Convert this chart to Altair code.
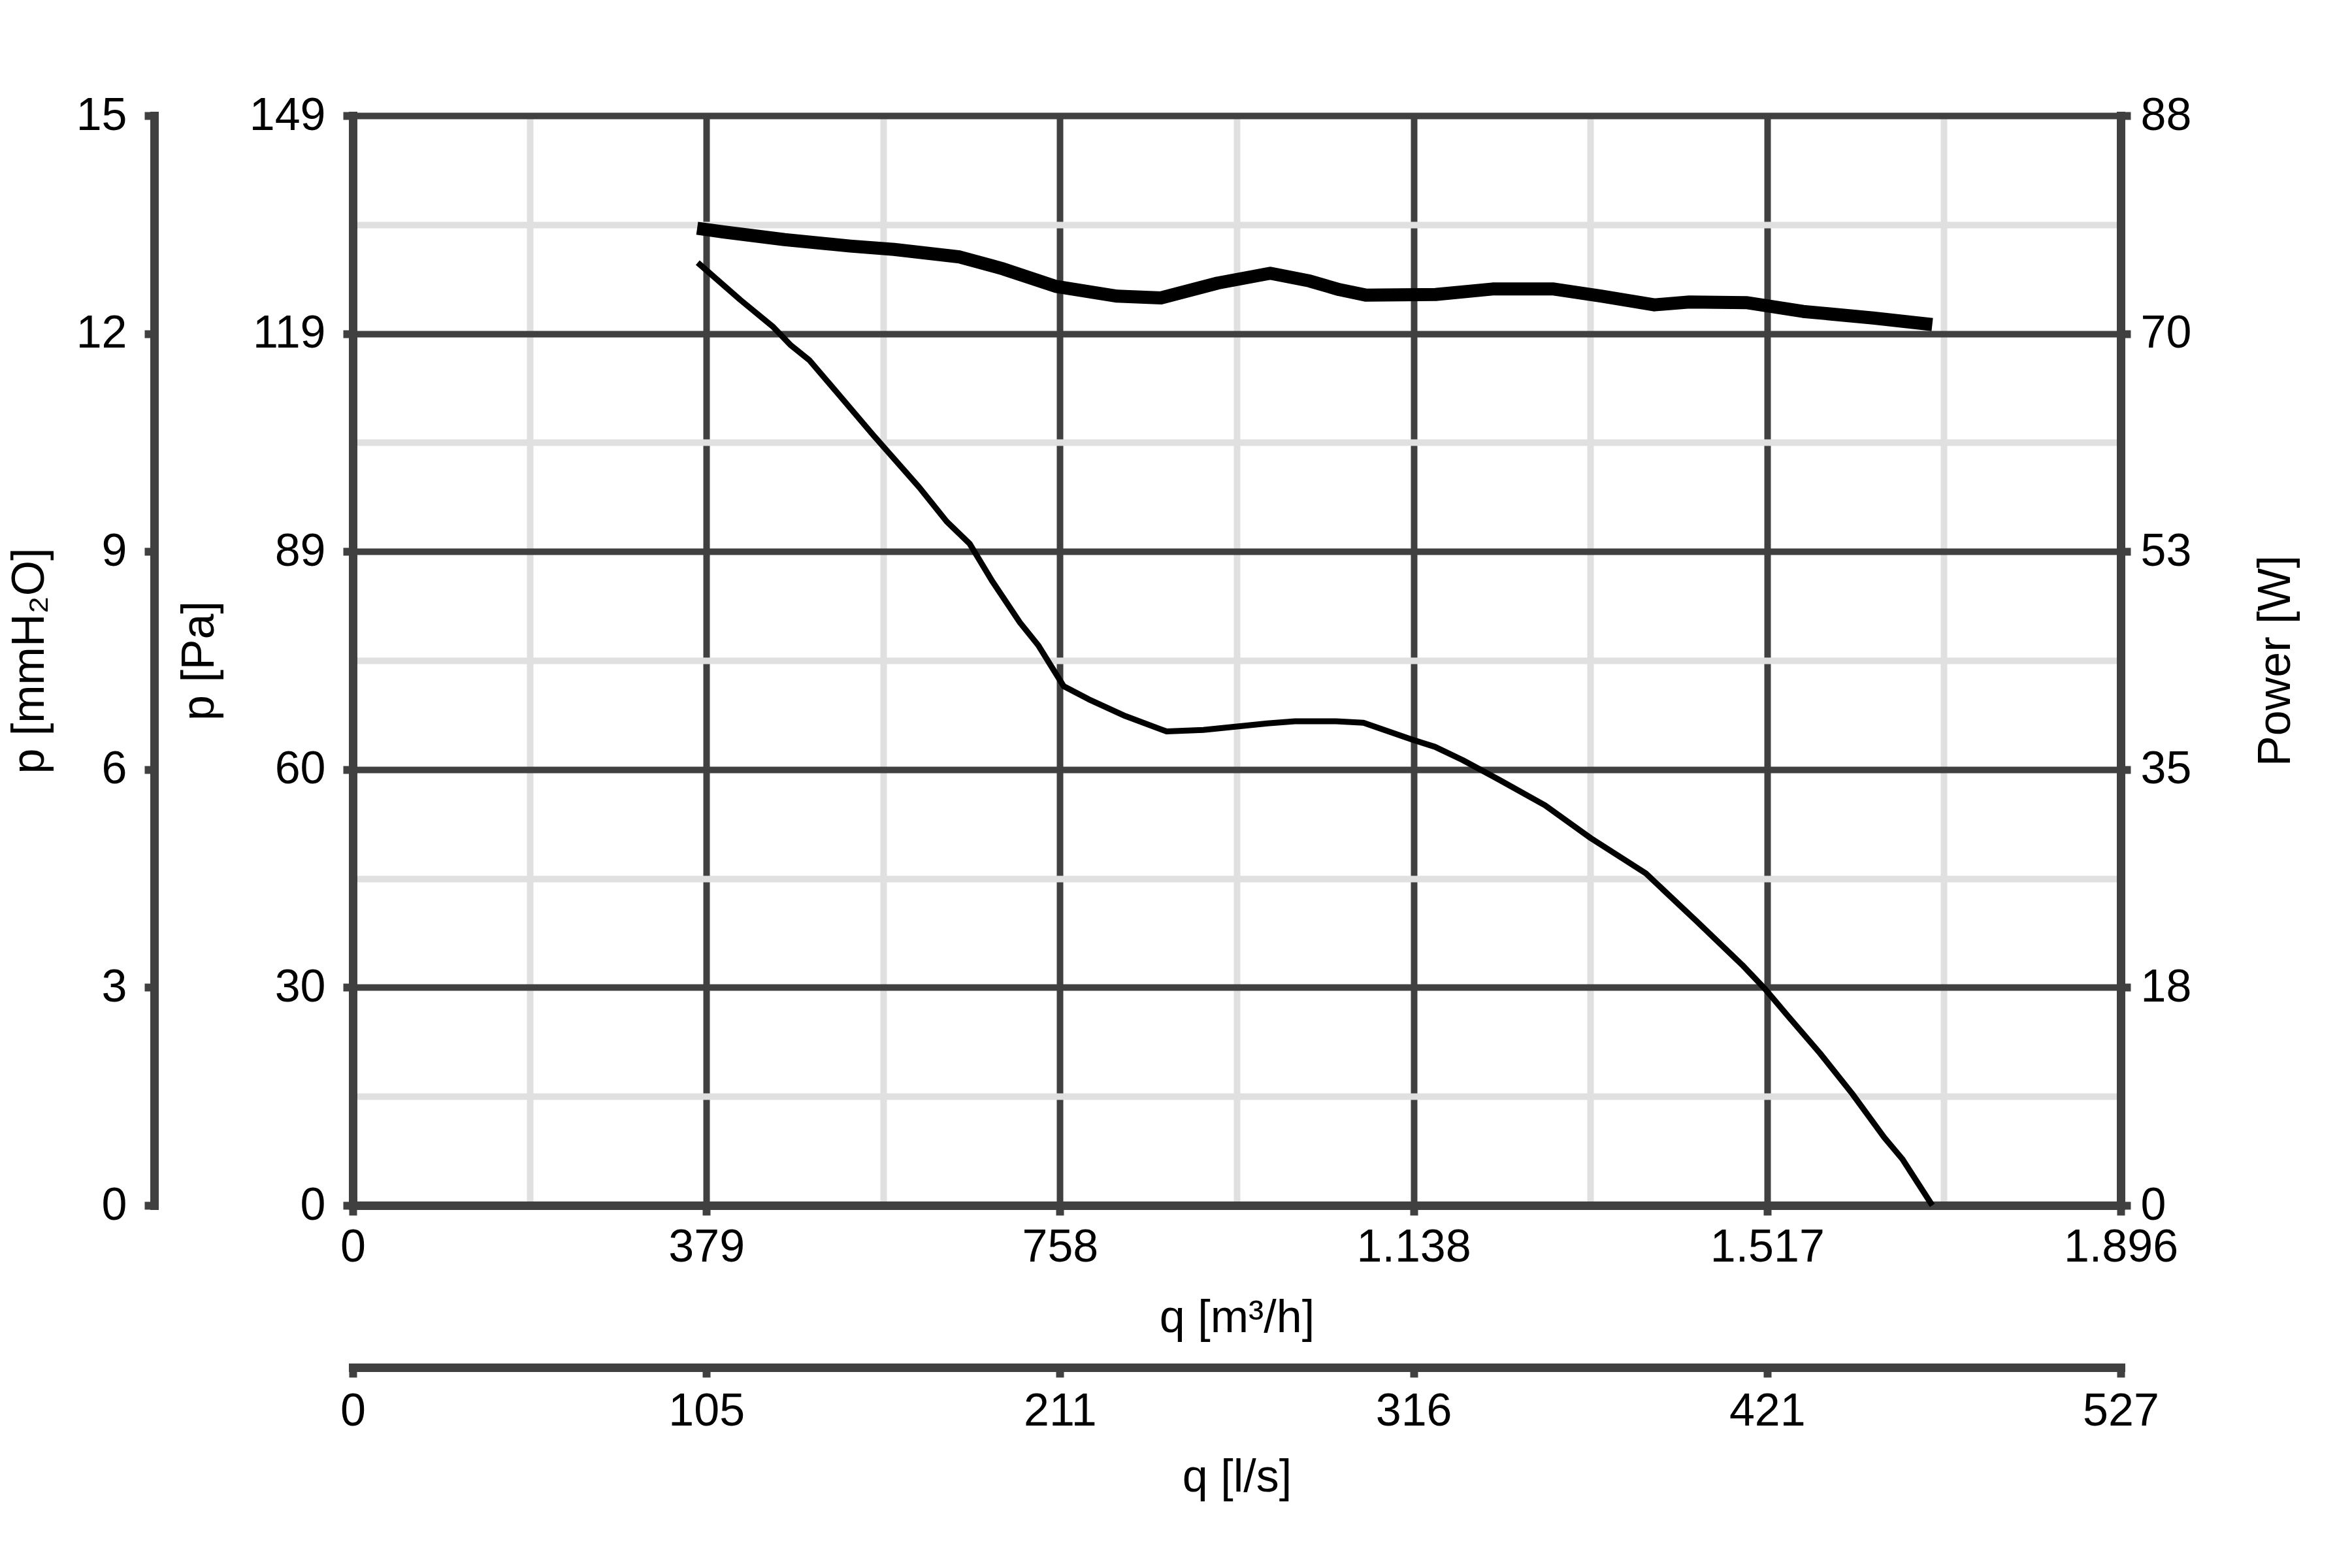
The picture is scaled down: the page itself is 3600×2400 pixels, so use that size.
import json
import altair as alt
import pandas as pd

# ---- data ----
# Pressure curve: q [m³/h] vs p [Pa]
Q_P = [369.9, 415.7, 450.1, 469.8, 489.4, 518.9, 558.2, 607.4, 636.9, 661.4, 686.0,
       715.4, 735.0, 762.3, 789.2, 828.6, 872.8, 912.1, 980.9, 1010.4, 1054.5, 1083.9,
       1101.6, 1136.0, 1160.6, 1190.1, 1229.4, 1278.6, 1327.8, 1386.7, 1440.8, 1489.9,
       1514.5, 1539.1, 1573.5, 1607.9, 1642.3, 1662.0, 1693.9]
P_PA = [128.9, 123.8, 120.2, 117.6, 115.6, 111.2, 105.3, 98.2, 93.5, 90.5, 85.3,
        79.7, 76.6, 71.0, 69.2, 66.9, 64.8, 65.0, 65.9, 66.2, 66.2, 66.0,
        65.2, 63.7, 62.7, 60.9, 58.2, 54.7, 50.2, 45.4, 38.9, 32.9,
        29.6, 25.9, 20.8, 15.3, 9.3, 6.3, 0.0]
# Power curve: q [m³/h] vs Power [W]
Q_W = [369.3, 397.4, 463.1, 533.4, 580.4, 650.8, 697.7, 754.0, 819.7, 866.6, 927.6,
       983.9, 1026.1, 1058.0, 1086.2, 1161.2, 1222.3, 1287.9, 1339.6, 1395.9, 1433.4,
       1494.4, 1555.4, 1630.5, 1693.9]
POWER_W = [78.91, 78.61, 77.99, 77.47, 77.20, 76.59, 75.62, 74.21, 73.42, 73.28, 74.48,
           75.27, 74.65, 73.95, 73.51, 73.56, 74.00, 74.00, 73.42, 72.72, 72.95,
           72.90, 72.19, 71.66, 71.13]

# axis ranges and tick labels
X_MAX = 1896.0            # m³/h
LS_MAX = 1896.0 / 3.6     # l/s
PA_MAX = 149.0            # Pa
MM_MAX = 149.0 / 9.80665  # mmH2O
W_MAX = 88.0              # W
X_LABELS = ["0", "379", "758", "1.138", "1.517", "1.896"]
LS_LABELS = ["0", "105", "211", "316", "421", "527"]
PA_LABELS = ["0", "30", "60", "89", "119", "149"]
MM_LABELS = ["0", "3", "6", "9", "12", "15"]
W_LABELS = ["0", "18", "35", "53", "70", "88"]

FONT = "Liberation Sans"
DARK = "#404040"
LIGHT = "#e0e0e0"

pressure = pd.DataFrame({"q": Q_P, "pa": P_PA})
power = pd.DataFrame({"q": Q_W, "w": POWER_W})


def lab_expr(labels, step, minor):
    arr = json.dumps(labels)
    major = f"{arr}[round(datum.value / {step})]"
    if minor:
        return f"round(datum.value / {step / 2}) % 2 == 1 ? '' : {major}"
    return major


def minor_test(step):
    return f"round(datum.value / {step / 2}) % 2 == 1"


x_step = X_MAX / 5
pa_step = PA_MAX / 5
ls_step = LS_MAX / 5
mm_step = MM_MAX / 5
w_step = W_MAX / 5

x_axis = alt.Axis(
    values=[i * x_step / 2 for i in range(11)],
    labelExpr=lab_expr(X_LABELS, x_step, True),
    title="q [m³/h]",
    grid=True,
    gridColor={"condition": {"test": minor_test(x_step), "value": LIGHT}, "value": DARK},
    gridWidth=10,
    tickOpacity={"condition": {"test": minor_test(x_step), "value": 0}, "value": 1},
    labelPadding=15,
    titlePadding=39,
)
pa_axis = alt.Axis(
    values=[i * pa_step / 2 for i in range(11)],
    labelExpr=lab_expr(PA_LABELS, pa_step, True),
    title="p [Pa]",
    grid=True,
    gridColor={"condition": {"test": minor_test(pa_step), "value": LIGHT}, "value": DARK},
    gridWidth=10,
    tickOpacity={"condition": {"test": minor_test(pa_step), "value": 0}, "value": 1},
    labelPadding=27,
    titlePadding=40,
)
w_axis = alt.Axis(
    orient="right",
    values=[i * w_step for i in range(6)],
    labelExpr=lab_expr(W_LABELS, w_step, False),
    title="Power [W]",
    grid=False,
    labelPadding=15,
    titlePadding=96,
    titleAngle=270,
    titleBaseline="top",
)
ls_axis = alt.Axis(
    orient="bottom",
    offset=248,
    values=[i * ls_step for i in range(6)],
    labelExpr=lab_expr(LS_LABELS, ls_step, False),
    title="q [l/s]",
    grid=False,
    labelPadding=18,
    titlePadding=32,
)
mm_axis = alt.Axis(
    orient="left",
    offset=304,
    values=[i * mm_step for i in range(6)],
    labelExpr=lab_expr(MM_LABELS, mm_step, False),
    title="p [mmH₂O]",
    grid=False,
    labelPadding=27,
    titlePadding=35,
)

x_scale = alt.Scale(domain=[0, X_MAX], nice=False, zero=False)

pressure_layer = alt.Chart(pressure).mark_line(
    color="black", strokeWidth=9, strokeJoin="round"
).encode(
    x=alt.X("q:Q", scale=x_scale, axis=x_axis),
    y=alt.Y("pa:Q", scale=alt.Scale(domain=[0, PA_MAX], nice=False), axis=pa_axis),
)

power_layer = alt.Chart(power).mark_line(
    color="black", strokeWidth=20, strokeJoin="round"
).encode(
    x=alt.X("q:Q", scale=x_scale, axis=None),
    y=alt.Y("w:Q", scale=alt.Scale(domain=[0, W_MAX], nice=False), axis=w_axis),
)

# same pressure curve in the secondary units (invisible) to carry the l/s and mmH2O axes
secondary_layer = alt.Chart(pressure).transform_calculate(
    ls="datum.q / 3.6", mm="datum.pa / 9.80665"
).mark_line(strokeOpacity=0).encode(
    x=alt.X("ls:Q", scale=alt.Scale(domain=[0, LS_MAX], nice=False, zero=False), axis=ls_axis),
    y=alt.Y("mm:Q", scale=alt.Scale(domain=[0, MM_MAX], nice=False), axis=mm_axis),
)

chart = alt.layer(pressure_layer, secondary_layer, power_layer).resolve_scale(
    x="independent", y="independent"
).properties(
    width=2706,
    height=1668,
    autosize=alt.AutoSizeParams(type="none"),
    padding={"left": 532, "top": 169, "right": 346, "bottom": 547},
    background="white",
).configure_view(
    stroke=None
).configure_axis(
    domainColor=DARK,
    domainWidth=13,
    domainCap="square",
    tickColor=DARK,
    tickWidth=12,
    tickSize=15,
    labelFont=FONT,
    labelFontSize=70,
    labelColor="black",
    labelFlush=False,
    labelOverlap=False,
    titleFont=FONT,
    titleFontSize=70,
    titleFontWeight="normal",
    titleColor="black",
)

chart.save("out.html", embed_options={"renderer": "svg", "actions": False})
